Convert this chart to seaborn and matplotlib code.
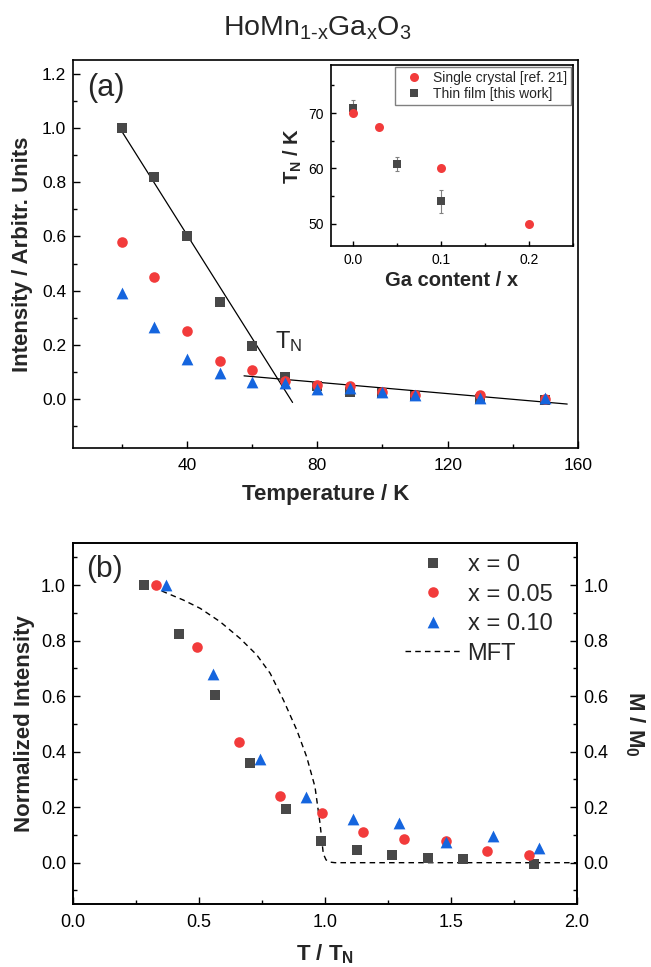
import numpy as np
import matplotlib
matplotlib.use('Agg')
import matplotlib.pyplot as plt
from matplotlib.ticker import MultipleLocator
import seaborn as sns

# panel (a): integrated intensity vs temperature
temps = [20, 30, 40, 50, 60, 70, 80, 90, 100, 110, 130, 150]
int_x0 = [1.00, 0.82, 0.60, 0.36, 0.195, 0.08, 0.047, 0.025, 0.022, 0.012, 0.0, -0.002]
int_x005 = [0.58, 0.45, 0.25, 0.14, 0.107, 0.068, 0.053, 0.047, 0.027, 0.017, 0.017, 0.002]
int_x010 = [0.39, 0.265, 0.148, 0.095, 0.065, 0.06, 0.037, 0.042, 0.025, 0.015, 0.006, 0.006]

# linear fits used to find T_N
fit_low_T = [20, 72.4]
fit_low_I = [0.987, -0.012]
fit_high_T = [57.5, 156.7]
fit_high_I = [0.086, -0.018]

# inset: T_N vs Ga content
ga_crystal = [0.0, 0.03, 0.10, 0.20]
tn_crystal = [70, 67.4, 60, 50]
ga_film = [0.0, 0.05, 0.10]
tn_film = [70.9, 60.8, 54.0]
tn_film_err = [1.5, 1.3, 2.0]

# panel (b): normalized intensity vs reduced temperature
tn_x0, tn_x005, tn_x010 = 71.0, 60.8, 54.0
norm_x0 = [1.0, 0.824, 0.603, 0.36, 0.193, 0.078, 0.047, 0.026, 0.018, 0.012, -0.004]
norm_x005 = [1.0, 0.778, 0.435, 0.24, 0.18, 0.11, 0.087, 0.077, 0.042, 0.026]
norm_x010 = [1.0, 0.679, 0.372, 0.237, 0.159, 0.144, 0.074, 0.095, 0.054]

mft_t = [0.279, 0.32, 0.359, 0.438, 0.505, 0.584, 0.663, 0.730, 0.783, 0.836, 0.889,
         0.928, 0.961, 0.981, 0.994, 1.005, 1.021, 1.04, 2.0]
mft_m = [1.0, 0.99, 0.976, 0.946, 0.916, 0.868, 0.808, 0.748, 0.682, 0.585, 0.477,
         0.381, 0.273, 0.141, 0.032, 0.01, 0.002, 0.0, 0.0]

GRAY = '#484848'
RED = '#f23b3b'
BLUE = '#1565de'

sns.set_theme(style='ticks')
plt.rcParams['font.family'] = ['Liberation Sans', 'DejaVu Sans']
plt.rcParams['mathtext.fontset'] = 'custom'
plt.rcParams['mathtext.rm'] = 'Liberation Sans'
plt.rcParams['mathtext.it'] = 'Liberation Sans:italic'
plt.rcParams['mathtext.bf'] = 'Liberation Sans:bold'


def style_axis(ax, fs):
    for sp in ax.spines.values():
        sp.set_linewidth(1.2)
        sp.set_color('black')
    ax.set_facecolor('white')
    ax.tick_params(which='both', direction='in', colors='black', labelsize=fs,
                   top=False, right=False, pad=5)
    ax.tick_params(which='major', length=5, width=1)
    ax.tick_params(which='minor', length=3, width=1)


fig = plt.figure(figsize=(6.51, 9.67), dpi=100)
ax_a = fig.add_axes([0.1121, 0.5367, 0.7757, 0.4012])
ax_in = fig.add_axes([0.508, 0.7459, 0.3727, 0.1869])
ax_b = fig.add_axes([0.1121, 0.0648, 0.7737, 0.3733])

fig.text(0.488, 0.971, 'HoMn$_\\mathregular{1\u2010x}$Ga$_\\mathregular{x}$O$_\\mathregular{3}$',
         ha='center', va='center', fontsize=20.5)

# ---- panel (a)
sns.lineplot(x=fit_low_T, y=fit_low_I, color='black', lw=0.9, ax=ax_a)
sns.lineplot(x=fit_high_T, y=fit_high_I, color='black', lw=0.9, ax=ax_a)
sns.scatterplot(x=temps, y=int_x0, marker='s', color=GRAY, s=52, linewidth=0, ax=ax_a, zorder=3)
sns.scatterplot(x=temps, y=int_x005, marker='o', color=RED, s=58, linewidth=0, ax=ax_a, zorder=4)
sns.scatterplot(x=temps, y=int_x010, marker='^', color=BLUE, s=72, linewidth=0, ax=ax_a, zorder=5)

ax_a.set_xlim(5, 160)
ax_a.set_ylim(-0.18, 1.25)
ax_a.xaxis.set_major_locator(MultipleLocator(40))
ax_a.xaxis.set_minor_locator(MultipleLocator(20))
ax_a.yaxis.set_major_locator(MultipleLocator(0.2))
ax_a.yaxis.set_minor_locator(MultipleLocator(0.1))
ax_a.yaxis.set_major_formatter('{x:.1f}')
style_axis(ax_a, 12.5)
ax_a.tick_params(axis='x', pad=7)
ax_a.set_xlabel('Temperature / K', fontsize=16, fontweight='bold', labelpad=8)
ax_a.set_ylabel('Intensity / Arbitr. Units', fontsize=16, fontweight='bold', labelpad=6)
ax_a.text(0.028, 0.929, '(a)', transform=ax_a.transAxes, fontsize=22, ha='left', va='center')
ax_a.text(67, 0.19, r'T$_\mathregular{N}$', fontsize=17, ha='left', va='baseline')

# ---- inset
ax_in.errorbar(ga_film, tn_film, yerr=tn_film_err, fmt='none', ecolor='#808080',
               elinewidth=0.8, capsize=1.5, capthick=0.8, zorder=2)
sns.scatterplot(x=ga_film, y=tn_film, marker='s', color=GRAY, s=34, linewidth=0,
                ax=ax_in, zorder=3, label='Thin film [this work]')
sns.scatterplot(x=ga_crystal, y=tn_crystal, marker='o', color=RED, s=42, linewidth=0,
                ax=ax_in, zorder=4, label='Single crystal [ref. 21]')
ax_in.set_xlim(-0.025, 0.25)
ax_in.set_ylim(46, 78.7)
ax_in.xaxis.set_major_locator(MultipleLocator(0.1))
ax_in.xaxis.set_minor_locator(MultipleLocator(0.05))
ax_in.yaxis.set_major_locator(MultipleLocator(10))
ax_in.yaxis.set_minor_locator(MultipleLocator(5))
ax_in.xaxis.set_major_formatter('{x:.1f}')
style_axis(ax_in, 10)
ax_in.tick_params(which='major', length=3.5)
ax_in.tick_params(which='minor', length=2)
ax_in.set_xlabel('Ga content / x', fontsize=14.5, fontweight='bold', labelpad=3)
ax_in.set_ylabel(r'T$_\mathbf{N}$ / K', fontsize=14.5, fontweight='bold', labelpad=3)
h, l = ax_in.get_legend_handles_labels()
leg = ax_in.legend([h[1], h[0]], [l[1], l[0]], loc='upper right', fontsize=10,
                   frameon=True, fancybox=False, edgecolor='#808080', framealpha=1,
                   borderaxespad=0.15, borderpad=0.3, labelspacing=0.15,
                   handletextpad=0.4, scatteryoffsets=[0.5])
leg.get_frame().set_linewidth(1.0)

# ---- panel (b)
sns.lineplot(x=mft_t, y=mft_m, color='black', lw=1.0, linestyle=(0, (4, 3)),
             ax=ax_b, sort=False, zorder=2)
sns.scatterplot(x=np.array(temps[:len(norm_x0)]) / tn_x0, y=norm_x0, marker='s', color=GRAY,
                s=50, linewidth=0, ax=ax_b, zorder=3, label='x = 0')
sns.scatterplot(x=np.array(temps[:len(norm_x005)]) / tn_x005, y=norm_x005, marker='o', color=RED,
                s=58, linewidth=0, ax=ax_b, zorder=4, label='x = 0.05')
sns.scatterplot(x=np.array(temps[:len(norm_x010)]) / tn_x010, y=norm_x010, marker='^', color=BLUE,
                s=72, linewidth=0, ax=ax_b, zorder=5, label='x = 0.10')
ax_b.set_xlim(0, 2)
ax_b.set_ylim(-0.15, 1.15)
ax_b.xaxis.set_major_locator(MultipleLocator(0.5))
ax_b.xaxis.set_minor_locator(MultipleLocator(0.25))
ax_b.yaxis.set_major_locator(MultipleLocator(0.2))
ax_b.yaxis.set_minor_locator(MultipleLocator(0.1))
ax_b.xaxis.set_major_formatter('{x:.1f}')
ax_b.yaxis.set_major_formatter('{x:.1f}')
style_axis(ax_b, 13)
ax_b.tick_params(axis='x', pad=7)
ax_b.set_xlabel(r'T / T$_\mathbf{N}$', fontsize=16, fontweight='bold', labelpad=8)
ax_b.set_ylabel('Normalized Intensity', fontsize=16, fontweight='bold', labelpad=4)
ax_b.text(0.026, 0.930, '(b)', transform=ax_b.transAxes, fontsize=21.5, ha='left', va='center')

h, l = ax_b.get_legend_handles_labels()
mft_line = ax_b.get_lines()[0]
order = [l.index('x = 0'), l.index('x = 0.05'), l.index('x = 0.10')]
ax_b.legend([h[i] for i in order] + [mft_line], ['x = 0', 'x = 0.05', 'x = 0.10', 'MFT'],
            loc='upper left', bbox_to_anchor=(405 / 651, 1 - 554 / 967),
            bbox_transform=fig.transFigure, frameon=False, fontsize=17, borderpad=0,
            borderaxespad=0, handlelength=2.35, handletextpad=0.3, labelspacing=0.32,
            scatteryoffsets=[0.5])

ax_b2 = ax_b.twinx()
ax_b2.set_ylim(ax_b.get_ylim())
ax_b2.yaxis.set_major_locator(MultipleLocator(0.2))
ax_b2.yaxis.set_minor_locator(MultipleLocator(0.1))
ax_b2.yaxis.set_major_formatter('{x:.1f}')
ax_b2.set_yticks([0, 0.2, 0.4, 0.6, 0.8, 1.0])
style_axis(ax_b2, 13)
ax_b2.tick_params(which='both', left=False, right=True)
ax_b2.set_ylabel(r'M / M$_\mathbf{0}$', fontsize=16, fontweight='bold', rotation=270, labelpad=27)

fig.savefig('out.png', dpi=100)
